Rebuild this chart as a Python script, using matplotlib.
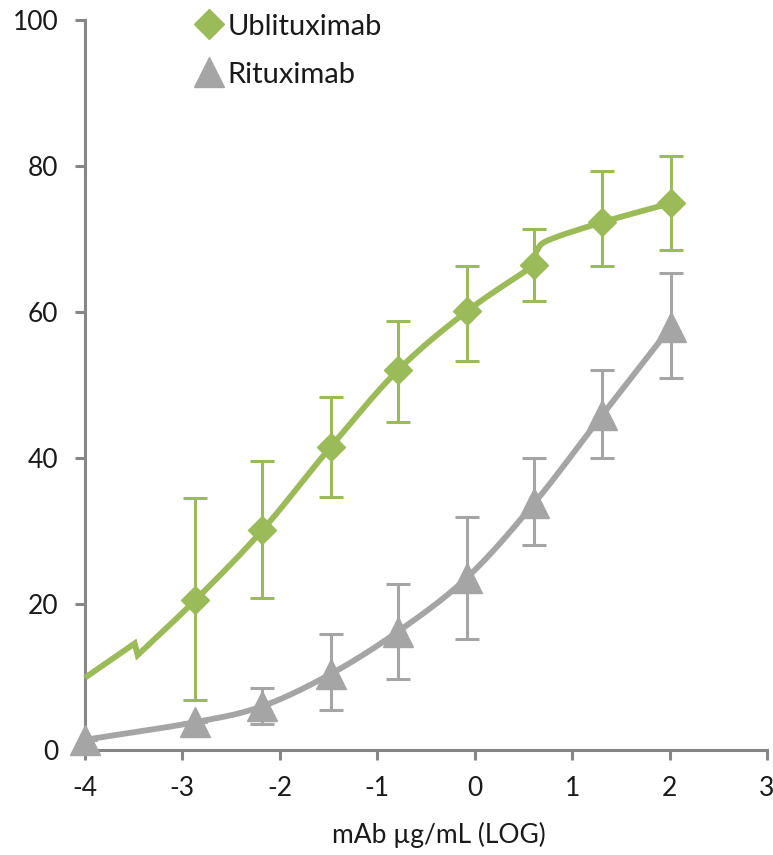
import numpy as np
import matplotlib
matplotlib.use("Agg")
import matplotlib.pyplot as plt
from matplotlib.lines import Line2D

plt.rcParams['font.family'] = ['Lato', 'DejaVu Sans']

# ---- data ----
ubli_x = [-2.87, -2.18, -1.48, -0.79, -0.08, 0.61, 1.31, 2.01]
ubli_y = [20.5, 30.1, 41.5, 52.0, 60.1, 66.4, 72.3, 74.9]
ubli_err_hi = [14.0, 9.5, 6.9, 6.8, 6.2, 5.0, 7.0, 6.5]
ubli_err_lo = [13.7, 9.3, 6.8, 7.1, 6.8, 4.9, 6.0, 6.4]

ritu_x = [-4.0, -2.87, -2.18, -1.48, -0.79, -0.08, 0.61, 1.31, 2.01]
ritu_y = [1.4, 3.8, 6.0, 10.4, 16.2, 23.6, 33.8, 45.9, 57.9]
ritu_err_hi = [0.0, 0.0, 2.5, 5.5, 6.5, 8.3, 6.2, 6.1, 7.5]
ritu_err_lo = [0.0, 0.0, 2.4, 4.9, 6.5, 8.4, 5.7, 5.9, 6.9]

# fitted curve knots (segments as drawn, joined end to end)
ubli_fit_x = [[-4.0, -3.49], [-3.46, -2.87, -2.18, -1.48, -0.79, -0.08, 0.61],
              [0.63, 0.75, 1.31, 2.01]]
ubli_fit_y = [[9.9, 14.6], [13.0, 20.5, 30.1, 41.5, 52.0, 60.1, 66.4],
              [68.3, 69.8, 72.3, 74.9]]
ritu_fit_x = [-4.0, -2.87, -2.18, -1.48, -0.79, -0.08, 0.61, 1.31, 2.01]
ritu_fit_y = [1.4, 3.8, 6.0, 10.4, 16.2, 23.6, 33.8, 45.9, 57.9]

x_ticks = [-4, -3, -2, -1, 0, 1, 2, 3]
y_ticks = [0, 20, 40, 60, 80, 100]

GREEN = '#9BBB59'
GRAY = '#A5A5A5'
AXIS = '#868686'
TEXT = '#1a1a1a'


def catmull(xs, ys, n=30):
    xs = np.asarray(xs, float); ys = np.asarray(ys, float)
    if len(xs) < 3:
        return xs, ys
    P = np.column_stack([xs, ys])
    P = np.vstack([2 * P[0] - P[1], P, 2 * P[-1] - P[-2]])
    out = []
    for i in range(1, len(P) - 2):
        p0, p1, p2, p3 = P[i - 1], P[i], P[i + 1], P[i + 2]
        t = np.linspace(0, 1, n)[:, None]
        seg = 0.5 * ((2 * p1) + (-p0 + p2) * t + (2 * p0 - 5 * p1 + 4 * p2 - p3) * t ** 2
                     + (-p0 + 3 * p1 - 3 * p2 + p3) * t ** 3)
        out.append(seg)
    out = np.vstack(out)
    return out[:, 0], out[:, 1]


fig = plt.figure(figsize=(7.73, 8.55), dpi=100)
ax = fig.add_axes([85 / 773, 105 / 855, (767 - 85) / 773, (750 - 20) / 855])

# fitted curves
gx, gy = [], []
for fx, fy in zip(ubli_fit_x, ubli_fit_y):
    cx, cy = catmull(fx, fy)
    gx.extend(cx); gy.extend(cy)
ax.plot(gx, gy, color=GREEN, lw=4.2, solid_capstyle='butt', solid_joinstyle='miter',
        zorder=3, clip_on=False)
cx, cy = catmull(ritu_fit_x, ritu_fit_y)
ax.plot(cx, cy, color=GRAY, lw=4.2, solid_capstyle='butt', zorder=3, clip_on=False)

# error bars
ax.errorbar(ubli_x, ubli_y, yerr=[ubli_err_lo, ubli_err_hi], fmt='none',
            ecolor=GREEN, elinewidth=2.2, capsize=8.5, capthick=2.2, zorder=4)
ax.errorbar(ritu_x, ritu_y, yerr=[ritu_err_lo, ritu_err_hi], fmt='none',
            ecolor=GRAY, elinewidth=2.2, capsize=8.5, capthick=2.2, zorder=4)

# markers
ax.plot(ubli_x, ubli_y, 'D', color=GREEN, ms=14, mec=GREEN, zorder=5, clip_on=False)
ax.plot(ritu_x, ritu_y, '^', color=GRAY, ms=21, mec=GRAY, zorder=5, clip_on=False)

ax.set_xlim(-4, 3)
ax.set_ylim(0, 100)
ax.set_xticks(x_ticks)
ax.set_yticks(y_ticks)
ax.set_xticklabels([str(t) for t in x_ticks])
ax.set_yticklabels([str(t) for t in y_ticks])

for s in ['top', 'right']:
    ax.spines[s].set_visible(False)
for s in ['left', 'bottom']:
    ax.spines[s].set_color(AXIS)
    ax.spines[s].set_linewidth(2.2)
ax.tick_params(axis='both', direction='out', length=7, width=2.2, color=AXIS,
               labelsize=19, labelcolor=TEXT)
ax.tick_params(axis='x', pad=12)
ax.tick_params(axis='y', pad=12)

ax.set_xlabel('mAb µg/mL (LOG)', fontsize=19, color=TEXT)
ax.xaxis.set_label_coords((439 - 85) / 682, (750 - 822) / 730)

handles = [Line2D([], [], marker='D', color=GREEN, ls='none', ms=15),
           Line2D([], [], marker='^', color=GRAY, ls='none', ms=22)]
leg = ax.legend(handles, ['Ublituximab', 'Rituximab'], loc='upper left',
                bbox_to_anchor=(178 / 773, 1 - 2 / 855), bbox_transform=fig.transFigure,
                frameon=False, fontsize=21, handletextpad=0.0, labelspacing=0.75,
                handlelength=1.3, borderaxespad=0)
for t in leg.get_texts():
    t.set_color(TEXT)

fig.savefig('out.png', dpi=100)
